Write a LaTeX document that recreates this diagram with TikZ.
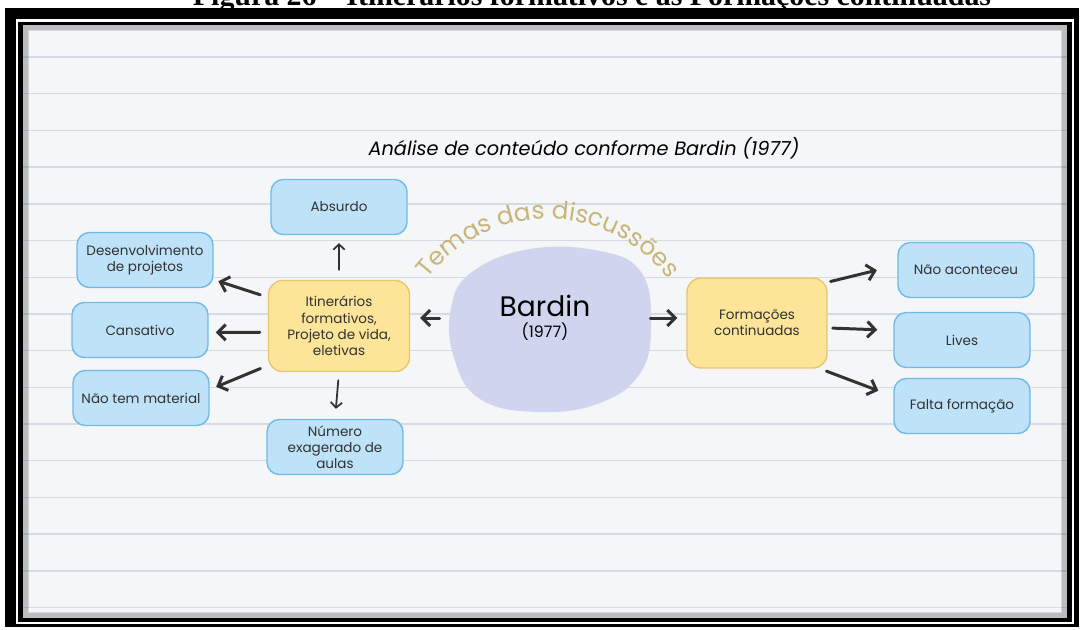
\documentclass[tikz,border=0pt]{standalone}
\usepackage{fontspec}
\setmainfont{Poppins}
\newfontfamily\capfont{Liberation Serif}
\usetikzlibrary{arrows.meta,decorations.text}
\definecolor{paper}{RGB}{244,246,248}
\definecolor{ruled}{RGB}{211,220,230}
\definecolor{leafblue}{RGB}{190,226,248}
\definecolor{leafline}{RGB}{112,186,232}
\definecolor{hubyellow}{RGB}{252,229,152}
\definecolor{hubline}{RGB}{230,198,112}
\definecolor{blobcol}{RGB}{208,212,238}
\definecolor{tema}{RGB}{201,181,122}
\definecolor{inkgray}{RGB}{50,50,50}
\begin{document}
\begin{tikzpicture}[x=0.02cm,y=-0.02cm]
\tikzstyle{leaf}=[draw=leafline, fill=leafblue, rounded corners=7pt, line width=0.8pt,
  minimum width=2.72cm, minimum height=1.1cm, align=center, text=inkgray,
  font=\fontsize{7.7}{9.2}\selectfont]
\tikzstyle{hub}=[draw=hubline, fill=hubyellow, rounded corners=8pt, line width=0.8pt,
  minimum width=2.82cm, minimum height=1.82cm, align=center, text=inkgray,
  font=\fontsize{7.7}{9.2}\selectfont]
\tikzstyle{arr}=[-{Straight Barb[length=4.5pt,width=9pt]}, draw=inkgray, line width=1.7pt, line cap=round]
\tikzstyle{thinarr}=[-{Straight Barb[length=3pt,width=6.5pt]}, draw=inkgray, line width=1pt, line cap=round]
    \useasboundingbox (0,0) rectangle (1081,629);
    % caption cut at the top
    \node[anchor=base, font=\capfont\bfseries\fontsize{17}{20}\selectfont] (legenda) at (592,5)
      {Figura 26 – Itinerários formativos e as Formações continuadas};
    % frame and paper
    \fill (5,8) rectangle (1079,627);
    \fill[white] (16,19) rectangle (1074,624);
    \fill (18,22) rectangle (1072,622);
    \fill[paper] (23,25) rectangle (1067,618);
    \foreach \k in {0,...,15}
      \draw[ruled, line width=0.8pt] (23,57+36.7*\k) -- (1067,57+36.7*\k);
    \foreach \i in {0,...,5}
      \draw[black, opacity=0.12, line width=0.7pt] (23+\i,25+\i) rectangle (1067-\i,618-\i);
    % title
    \node[font=\itshape\fontsize{11}{13}\selectfont] (titulo) at (584,148)
      {Análise de conteúdo conforme Bardin (1977)};
    % central blob
    \fill[blobcol] plot[smooth cycle, tension=0.7] coordinates
      {(472,272) (530,249) (600,251) (641,272) (651,322) (641,372) (600,403) (538,412) (480,399) (454,358) (451,308)};
    \node[minimum width=4cm, minimum height=2cm, align=center, text=black] (bardin) at (545,318)
      {{\fontsize{16}{17}\selectfont Bardin}\\[0pt]{\fontsize{9}{10}\selectfont (1977)}};
    \path[decorate, decoration={text along path, text align=center,
      text={|\fontsize{14}{14}\selectfont\color{tema}|Temas das discussões}}]
      (548,369) ++(214:150) arc (214:326:150);
    % left side
    \node[hub] (itiner) at (339,326) {Itinerários\\formativos,\\Projeto de vida,\\eletivas};
    \node[leaf] (absurdo) at (339,207) {Absurdo};
    \node[leaf] (desenv) at (145,260) {Desenvolvimento\\de projetos};
    \node[leaf] (cansativo) at (140,330) {Cansativo};
    \node[leaf] (naotem) at (141,398) {Não tem material};
    \node[leaf] (numero) at (335,447) {Número\\exagerado de\\aulas};
    % right side
    \node[hub, minimum width=2.8cm, minimum height=1.8cm] (formacoes) at (757,323) {Formações\\continuadas};
    \node[leaf] (naoacont) at (966,270) {Não aconteceu};
    \node[leaf] (lives) at (962,340) {Lives};
    \node[leaf] (falta) at (962,406) {Falta formação};
    % connectors
    \draw[arr, shorten <=0.1cm, shorten >=0.2cm] (bardin.west) -- (bardin.west -| itiner.east);
    \draw[arr, shorten <=0.1cm, shorten >=0.18cm] (bardin.east) -- (bardin.east -| formacoes.west);
    \draw[thinarr, shorten <=0.2cm, shorten >=0.16cm] (itiner.north) -- (absurdo.south);
    \draw[thinarr, shorten <=0.16cm, shorten >=0.2cm] (itiner.south) -- (numero.north);
    \draw[arr, shorten <=0.16cm, shorten >=0.1cm] (itiner.158) -- (desenv.344);
    \draw[arr, shorten <=0.16cm, shorten >=0.14cm] (itiner.185) -- (cansativo.358);
    \draw[arr, shorten <=0.16cm, shorten >=0.14cm] (itiner.209) -- (naotem.7);
    \draw[arr, shorten <=0.06cm, shorten >=0.42cm] (formacoes.30) -- (naoacont.176);
    \draw[arr, shorten <=0.1cm, shorten >=0.32cm] (formacoes.-4) -- (lives.172);
    \draw[arr, shorten <=0.14cm, shorten >=0.32cm] (formacoes.-36) -- (falta.172);
\end{tikzpicture}
\end{document}
